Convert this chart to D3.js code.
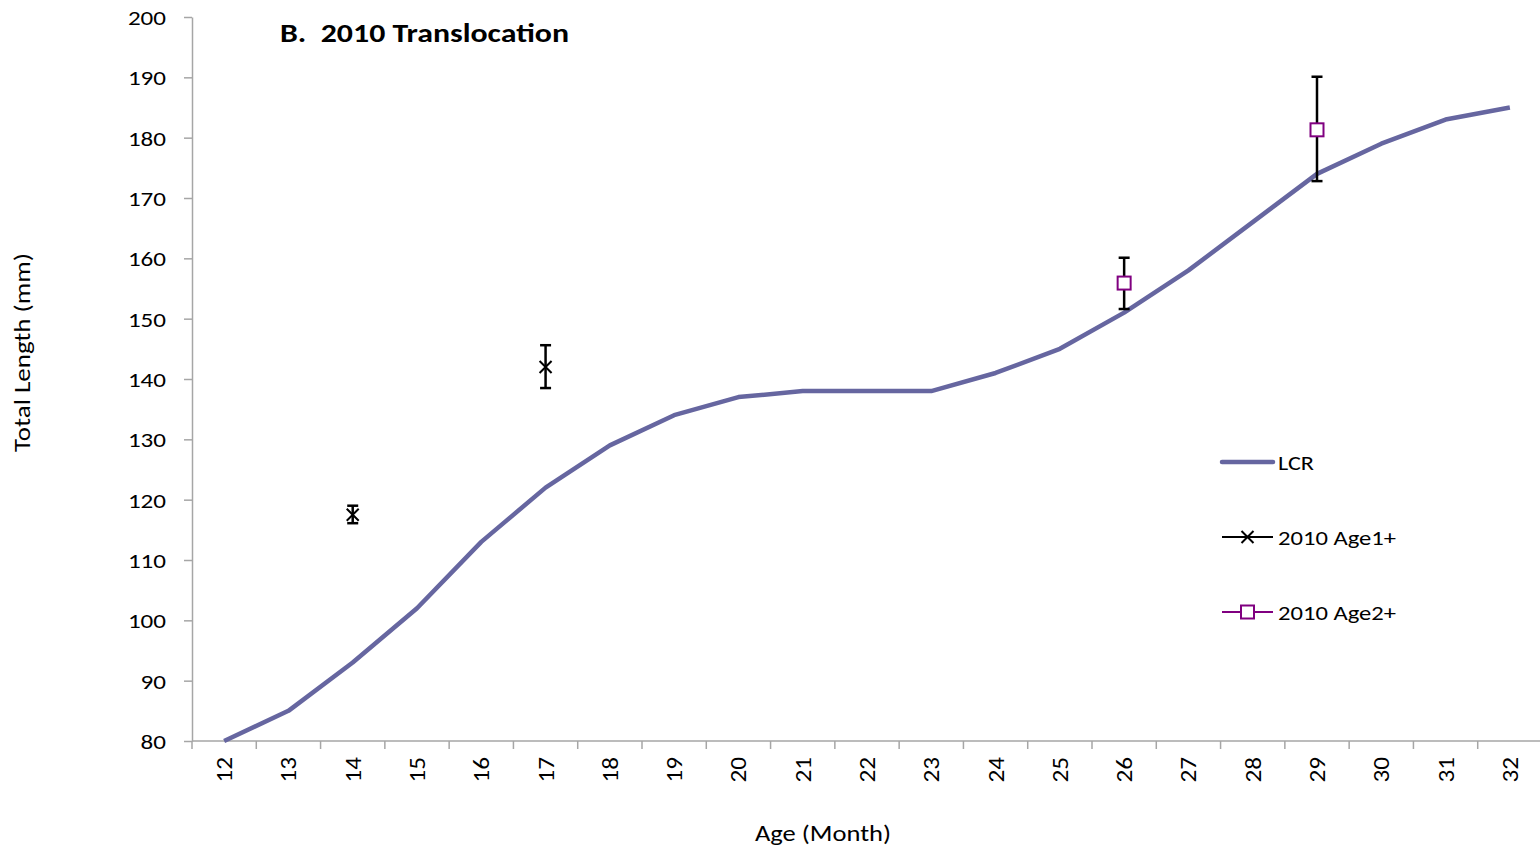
<!DOCTYPE html>
<html>
<head>
<meta charset="utf-8">
<script src="https://cdn.jsdelivr.net/npm/d3@7"></script>
<style>
  html, body { margin: 0; padding: 0; background: #fff; }
  svg { display: block; }
</style>
</head>
<body>
<svg id="chart" width="1540" height="849"></svg>
<script>
// Age in months along the x axis
const months = [12,13,14,15,16,17,18,19,20,21,22,23,24,25,26,27,28,29,30,31,32];
// LCR growth curve (total length, mm)
const lcrLength = [80,85,93,102,113,122,129,134,137,138,138,138,141,145,151,158,166,174,179,183,185];
// 2010 Age1+ group: mean with low/high bounds
const age1Month = [14, 17];
const age1Mean  = [117.5, 142.0];
const age1Low   = [116.1, 138.5];
const age1High  = [119.0, 145.6];
// 2010 Age2+ group: mean with low/high bounds
const age2Month = [26, 29];
const age2Mean  = [155.9, 181.3];
const age2Low   = [151.6, 172.8];
const age2High  = [160.1, 190.1];
const yTicks = [80,90,100,110,120,130,140,150,160,170,180,190,200];
const legendNames = ["LCR", "2010 Age1+", "2010 Age2+"];

const svg = d3.select("#chart");
const plotLeft = 192, plotRight = 1542, plotTop = 17, plotBottom = 741;

const x = d3.scaleBand().domain(months).range([plotLeft, plotRight]).padding(0);
const cx = m => x(m) + x.bandwidth() / 2;
const y = d3.scaleLinear().domain([80, 200]).range([plotBottom, plotTop]);

const axisColor = "#a6a6a6";
const lcrColor = "#6666a0";
const age2Color = "#800080";
const font = "Carlito, Calibri, Lato, 'Open Sans', sans-serif";

// Wide text: glyphs are spread to a given length
function wide(sel, len) {
  return sel.attr("textLength", len).attr("lengthAdjust", "spacingAndGlyphs");
}

// Y axis
const yAxis = svg.append("g").attr("transform", `translate(${plotLeft},0)`)
  .call(d3.axisLeft(y).tickValues(yTicks).tickSize(8).tickPadding(18).tickSizeOuter(0));
yAxis.select(".domain").attr("stroke", axisColor).attr("stroke-width", 1.5);
yAxis.selectAll(".tick line").attr("stroke", axisColor).attr("stroke-width", 1.5);
yAxis.selectAll(".tick text").attr("font-family", font).attr("font-size", 20.5).attr("fill", "#000")
  .attr("dy", "0.36em")
  .each(function (d) { wide(d3.select(this), String(d).length * 12.7); });

// X axis: ticks at category boundaries
const xg = svg.append("g").attr("transform", `translate(0,${plotBottom})`);
xg.append("line").attr("x1", plotLeft).attr("x2", plotRight).attr("stroke", axisColor).attr("stroke-width", 1.5);
const bounds = months.map(m => x(m)).concat([x(months[months.length - 1]) + x.bandwidth()]);
xg.selectAll("line.tk").data(bounds).join("line").attr("class", "tk")
  .attr("x1", d => d).attr("x2", d => d).attr("y1", 0).attr("y2", 8)
  .attr("stroke", axisColor).attr("stroke-width", 1.5);
xg.selectAll("text").data(months).join("text")
  .attr("transform", m => `translate(${cx(m) + 8},16) rotate(-90)`)
  .attr("text-anchor", "end")
  .attr("font-family", font).attr("font-size", 22.5).attr("fill", "#000")
  .attr("textLength", 25.5).attr("lengthAdjust", "spacingAndGlyphs")
  .text(d => d);

// LCR curve
const line = d3.line().x((d, i) => cx(months[i])).y(d => y(d));
svg.append("path").datum(lcrLength).attr("d", line)
  .attr("fill", "none").attr("stroke", lcrColor).attr("stroke-width", 4.5)
  .attr("stroke-linejoin", "round");

// Error bars
function errorBars(monthsArr, low, high) {
  const g = svg.append("g").attr("stroke", "#000").attr("stroke-width", 2.5).attr("fill", "none");
  monthsArr.forEach((m, i) => {
    const px = cx(m);
    g.append("line").attr("x1", px).attr("x2", px).attr("y1", y(low[i])).attr("y2", y(high[i]));
    g.append("line").attr("x1", px - 5.5).attr("x2", px + 5.5).attr("y1", y(low[i])).attr("y2", y(low[i]));
    g.append("line").attr("x1", px - 5.5).attr("x2", px + 5.5).attr("y1", y(high[i])).attr("y2", y(high[i]));
  });
}
errorBars(age1Month, age1Low, age1High);
errorBars(age2Month, age2Low, age2High);

// Markers
const crossPath = (px, py, s) => `M${px - s},${py - s}L${px + s},${py + s}M${px - s},${py + s}L${px + s},${py - s}`;
svg.append("g").selectAll("path").data(age1Month).join("path")
  .attr("d", (m, i) => crossPath(cx(m), y(age1Mean[i]), 6))
  .attr("stroke", "#000").attr("stroke-width", 2).attr("fill", "none");
svg.append("g").selectAll("rect").data(age2Month).join("rect")
  .attr("x", m => cx(m) - 6.5).attr("y", (m, i) => y(age2Mean[i]) - 6.5)
  .attr("width", 13).attr("height", 13)
  .attr("stroke", age2Color).attr("stroke-width", 2).attr("fill", "#fff");

// Title
wide(svg.append("text").attr("x", 280).attr("y", 42)
  .attr("font-family", font).attr("font-weight", "bold").attr("font-size", 27)
  .attr("fill", "#000").style("white-space", "pre")
  .text("B.  2010 Translocation"), 289);

// Axis titles
wide(svg.append("text").attr("transform", "translate(30,352.5) rotate(-90)")
  .attr("text-anchor", "middle").attr("font-family", font).attr("font-size", 22)
  .attr("fill", "#000").text("Total Length (mm)"), 199);
wide(svg.append("text").attr("x", 823).attr("y", 841)
  .attr("text-anchor", "middle").attr("font-family", font).attr("font-size", 22)
  .attr("fill", "#000").text("Age (Month)"), 136);

// Legend
const lg = svg.append("g");
const lx1 = 1222, lx2 = 1273, ltx = 1278;
const rows = [462, 537, 612];
lg.append("line").attr("x1", lx1).attr("x2", lx2).attr("y1", rows[0]).attr("y2", rows[0])
  .attr("stroke", lcrColor).attr("stroke-width", 4.5).attr("stroke-linecap", "round");
lg.append("line").attr("x1", lx1).attr("x2", lx2).attr("y1", rows[1]).attr("y2", rows[1])
  .attr("stroke", "#000").attr("stroke-width", 2);
lg.append("path").attr("d", crossPath((lx1 + lx2) / 2, rows[1], 6)).attr("stroke", "#000").attr("stroke-width", 2);
lg.append("line").attr("x1", lx1).attr("x2", lx2).attr("y1", rows[2]).attr("y2", rows[2])
  .attr("stroke", age2Color).attr("stroke-width", 2);
lg.append("rect").attr("x", (lx1 + lx2) / 2 - 6.5).attr("y", rows[2] - 6.5).attr("width", 13).attr("height", 13)
  .attr("stroke", age2Color).attr("stroke-width", 2).attr("fill", "#fff");
const legendLen = [36, 118, 118];
lg.selectAll("text.lab").data(legendNames).join("text").attr("class", "lab")
  .attr("x", ltx).attr("y", (d, i) => rows[i]).attr("dy", "0.36em")
  .attr("font-family", font).attr("font-size", 21).attr("fill", "#000")
  .attr("textLength", (d, i) => legendLen[i]).attr("lengthAdjust", "spacingAndGlyphs")
  .text(d => d);
</script>
</body>
</html>
